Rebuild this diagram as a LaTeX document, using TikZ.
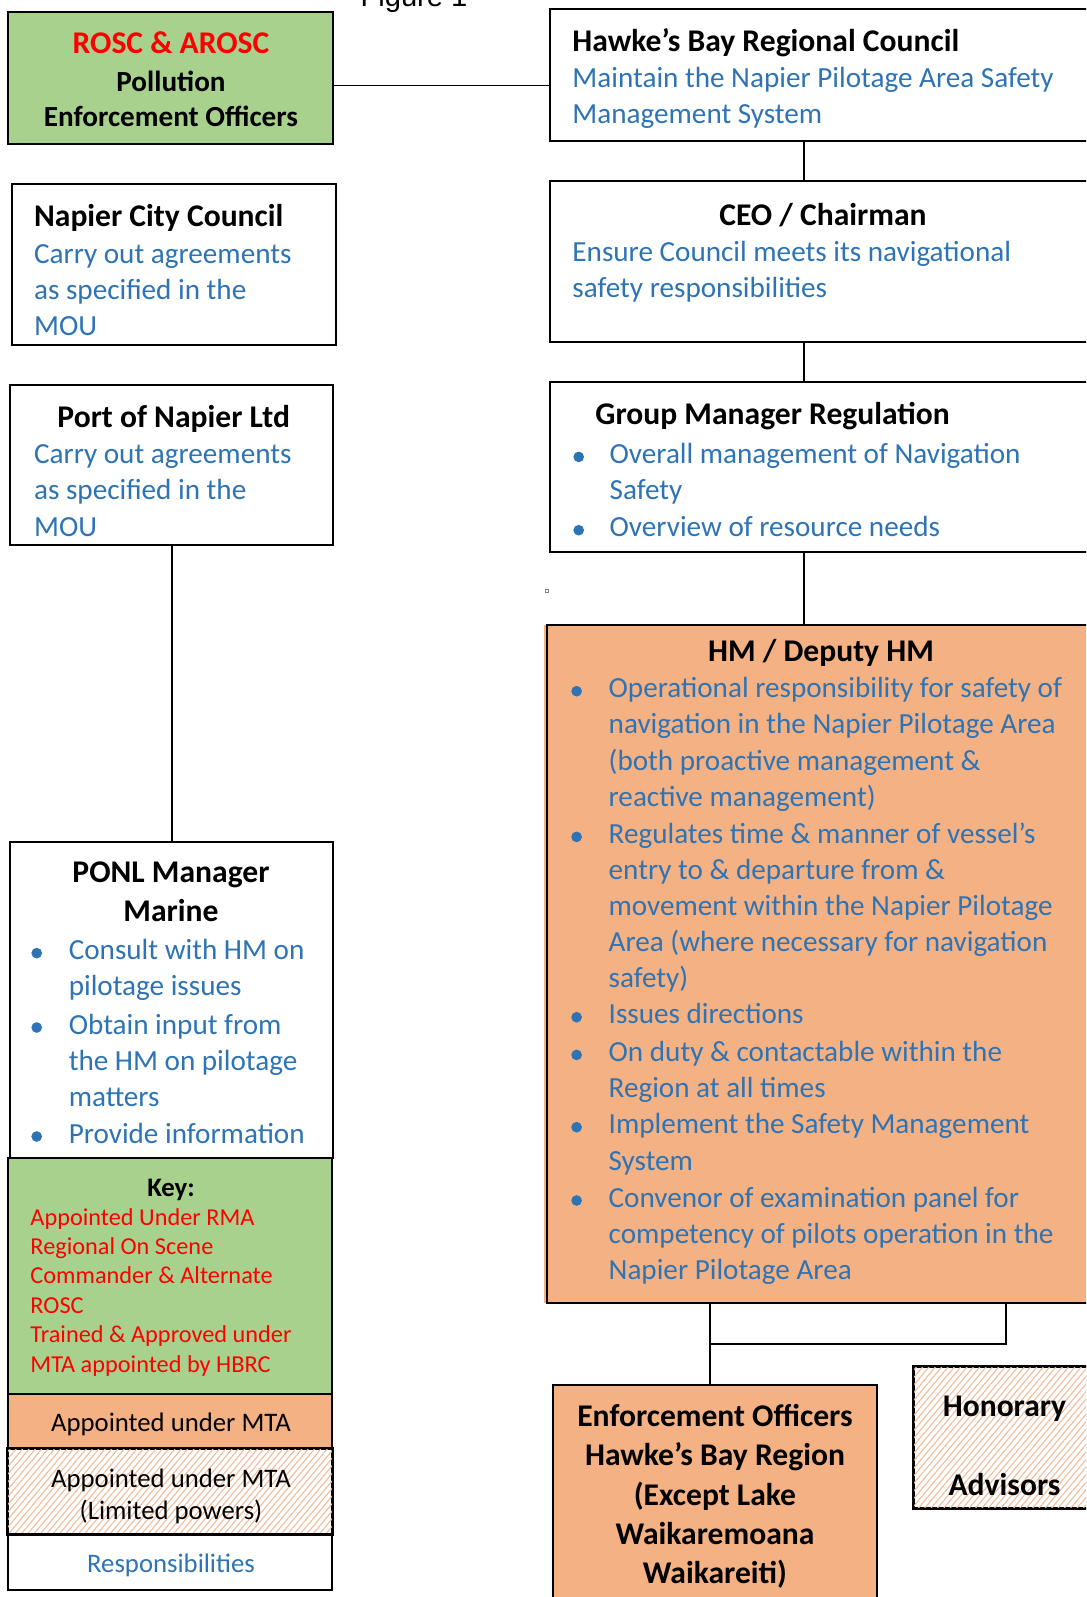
\documentclass[tikz,border=0pt]{standalone}
\usepackage{fontspec}
\setmainfont{Carlito}
\newfontfamily\arialf{Liberation Sans}
\usetikzlibrary{fit,patterns.meta}
\definecolor{blu}{RGB}{46,116,181}
\definecolor{grn}{RGB}{169,209,142}
\definecolor{org}{RGB}{244,177,131}
\definecolor{hatchc}{RGB}{240,188,156}
\newcommand\TL[1]{\begin{tabular}[t]{@{}l@{}}#1\end{tabular}}
\newcommand\TC[1]{\begin{tabular}[t]{@{}c@{}}#1\end{tabular}}
\tikzset{
 box/.style={draw=black, line width=0.8pt, inner sep=0pt},
 conn/.style={draw=black, line width=0.55pt},
 body/.style={font=\fontsize{12}{14.85}\selectfont, text=blu, inner sep=0pt, anchor=base west},
 ttl/.style={font=\fontsize{13}{16}\selectfont\bfseries, inner sep=0pt},
 keyt/.style={font=\fontsize{11}{13.2}\selectfont, inner sep=0pt, anchor=base},
 hatched/.style={pattern={Lines[angle=50,distance=2pt,line width=0.45pt]}, pattern color=hatchc},
 bul/.style={circle, fill=blu, inner sep=0pt, minimum size=4.4pt},
}
\begin{document}
\begin{tikzpicture}[x=0.4115pt,y=-0.4115pt]
\useasboundingbox (0,0) rectangle (1086,1597);
\clip (0,0) rectangle (1086,1597);
\fill[white] (0,0) rectangle (1086,1597);

% title (cut off at top)
\node[anchor=base, inner sep=0pt, font=\arialf\fontsize{12}{14}\selectfont] (fig) at (414,6) {Figure 1};

% ROSC box
\node[box, fill=grn, fit={(8,12) (333,144)}] (rosc) {};
\node[ttl, anchor=base, text=red] (rosct) at (171,53.8) {ROSC \& AROSC};
\node[inner sep=0pt, anchor=base, font=\fontsize{12}{14.6}\selectfont\bfseries] (roscs) at (171,91.5) {\TC{Pollution\\Enforcement Officers}};

% HBRC
\node[box, fit={(550,9) (1095,141)}] (hbrc) {};
\node[ttl, anchor=base west] (hbrct) at (572,51.8) {Hawke’s Bay Regional Council};
\node[body] (hbrcb) at (572,87.9) {\TL{Maintain the Napier Pilotage Area Safety\\Management System}};
\coordinate (ya) at (0,85.6);
\draw[conn] (rosc.east |- ya) -- (hbrc.west |- ya);

% Napier City Council
\node[box, fit={(12,184) (336,345)}] (ncc) {};
\node[ttl, anchor=base west] (ncct) at (33.6,226.5) {Napier City Council};
\node[body] (nccb) at (33.6,263) {\TL{Carry out agreements\\as specified in the\\MOU}};

% CEO
\node[box, fit={(550,181) (1095,342)}] (ceo) {};
\node[ttl, anchor=base] (ceot) at (823,225.9) {CEO / Chairman};
\node[body] (ceob) at (572,261) {\TL{Ensure Council meets its navigational\\safety responsibilities}};

% Port of Napier
\node[box, fit={(10,385) (333,545)}] (port) {};
\node[ttl, anchor=base] (portt) at (173.7,427.7) {Port of Napier Ltd};
\node[body] (portb) at (33.6,463.9) {\TL{Carry out agreements\\as specified in the\\MOU}};

% Group Manager Regulation
\node[box, fit={(550,382) (1095,552)}] (gmr) {};
\node[ttl, anchor=base west] (gmrt) at (595,424.6) {Group Manager Regulation};
\node[body] (gmr1) at (609.2,463.6) {\TL{Overall management of Navigation\\Safety}};
\node[body] (gmr2) at (609.2,536.9) {Overview of resource needs};
\node[bul] (gb1) at (578.7,456.9) {};
\node[bul] (gb2) at (578.7,530.2) {};

\coordinate (va) at (804,0);
\draw[conn] (hbrc.south -| va) -- (ceo.north -| va);
\draw[conn] (ceo.south -| va) -- (gmr.north -| va);

% speck
\node[draw=gray, line width=0.3pt, inner sep=0pt, minimum size=1.4pt] (speck) at (547,591) {};

% HM box
\fill[org] (543.5,625) rectangle (547,1303);
\node[box, fill=org, fit={(547,625) (1095,1303)}] (hm) {};
\draw[conn] (gmr.south -| va) -- (hm.north -| va);
\node[ttl, anchor=base] (hmt) at (821,661) {HM / Deputy HM};
\node[body] (hm1) at (608.2,697.9) {\TL{Operational responsibility for safety of\\navigation in the Napier Pilotage Area\\(both proactive management \&\\reactive management)}};
\node[body] (hm2) at (608.2,843.6) {\TL{Regulates time \& manner of vessel’s\\entry to \& departure from \&\\movement within the Napier Pilotage\\Area (where necessary for navigation\\safety)}};
\node[body] (hm3) at (608.2,1023.9) {Issues directions};
\node[body] (hm4) at (608.2,1061.6) {\TL{On duty \& contactable within the\\Region at all times}};
\node[body] (hm5) at (608.2,1133.9) {\TL{Implement the Safety Management\\System}};
\node[body] (hm6) at (608.2,1207.2) {\TL{Convenor of examination panel for\\competency of pilots operation in the\\Napier Pilotage Area}};
\foreach \b/\yy in {b1/697.9,b2/843.6,b3/1023.9,b4/1061.6,b5/1133.9,b6/1207.2}
  \node[bul] (hm\b) at (576.6,\yy-6.7) {};

% PONL Manager Marine
\node[box, fit={(10,842) (333,1158)}] (ponl) {};
\node[ttl, anchor=base] (ponlt) at (171,882.5) {\TC{PONL Manager\\Marine}};
\node[body] (pn1) at (68.3,959.8) {\TL{Consult with HM on\\pilotage issues}};
\node[body] (pn2) at (68.3,1034.2) {\TL{Obtain input from\\the HM on pilotage\\matters}};
\node[body] (pn3) at (68.3,1143.2) {Provide information};
\foreach \b/\yy in {b1/959.8,b2/1034.2,b3/1143.2}
  \node[bul] (pn\b) at (36.7,\yy-6.7) {};
\coordinate (vb) at (172,0);
\draw[conn] (port.south -| vb) -- (ponl.north -| vb);

% Key
\node[box, fill=grn, fit={(8,1158) (332,1394)}] (key) {};
\node[keyt, font=\fontsize{11}{13.2}\selectfont\bfseries] (keyt) at (171,1196) {Key:};
\node[inner sep=0pt, anchor=base west, text=red, font=\fontsize{10}{12.1}\selectfont] (keyr) at (30,1225) {\TL{Appointed Under RMA\\Regional On Scene\\Commander \& Alternate\\ROSC\\Trained \& Approved under\\MTA appointed by HBRC}};
\node[box, fill=org, fit={(8,1394) (332,1449)}] (keyo) {};
\node[keyt] (keyot) at (171,1431.5) {Appointed under MTA};
\node[box, fill=white, fit={(8,1449) (332,1534)}] (keyh) {};
\fill[hatched] (keyh.north west) rectangle (keyh.south east);
\draw[line width=0.8pt] (keyh.north west) rectangle (keyh.south east);
\node[keyt] (keyht) at (171,1487) {\TC{Appointed under MTA\\(Limited powers)}};
\node[box, fit={(8,1534) (332,1590)}] (keyw) {};
\node[keyt, text=blu] (keywt) at (171,1572) {Responsibilities};

% Enforcement officers
\node[box, fill=org, fit={(553,1385) (877,1620)}] (enf) {};
\node[ttl, anchor=base, font=\fontsize{13}{16.15}\selectfont\bfseries] (enft) at (715,1426.5) {\TC{Enforcement Officers\\Hawke’s Bay Region\\(Except Lake\\Waikaremoana\\Waikareiti)}};
\coordinate (vc) at (710,0);
\coordinate (vd) at (1006,0);
\coordinate (hb) at (0,1344);
\draw[conn] (hm.south -| vc) -- (enf.north -| vc);
\draw[conn] (hm.south -| vd) -- (vd |- hb) -- (vc |- hb);

% Honorary advisors
\node[box, fill=white, fit={(914,1367) (1095,1508)}] (hon) {};
\fill[hatched] (hon.north west) rectangle (hon.south east);
\draw[line width=0.8pt] (hon.north west) rectangle (hon.south east);
\node[ttl, anchor=base, font=\fontsize{13}{16.2}\selectfont\bfseries] (hont) at (1004.5,1416.5) {\TC{Honorary\\ \\Advisors}};
\end{tikzpicture}
\end{document}
